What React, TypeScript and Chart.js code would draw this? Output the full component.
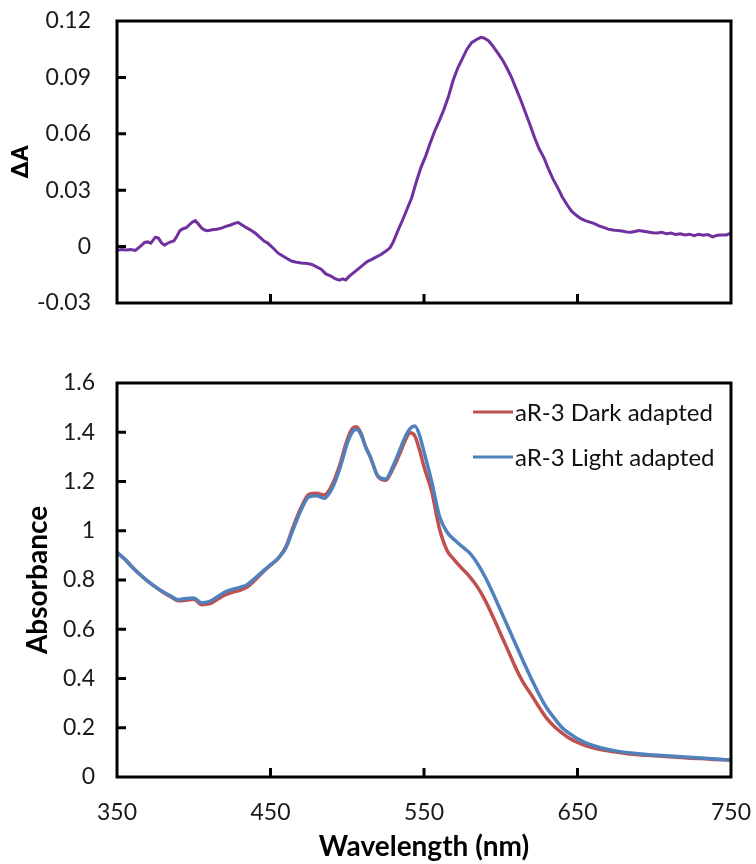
import React, { useEffect, useRef } from "react";
import { Chart, registerables } from "chart.js";

Chart.register(...registerables);

const FONT = "Lato, 'Liberation Sans', sans-serif";
const GREEK_FONT = "Roboto, 'Liberation Sans', sans-serif";

// ---- Top panel: difference spectrum (ΔA) ----
const diffWavelengths = [
  350, 353, 356, 359, 362, 365, 368, 370, 372, 375, 377, 379, 381, 383, 385, 387, 389, 391, 393, 395,
  397, 399, 401, 403, 405, 407, 409, 412, 415, 418, 421, 424, 427, 429, 431, 434, 437, 440, 443, 446,
  448, 450, 452, 455, 458, 461, 464, 467, 470, 474, 477, 480, 483, 486, 489, 492, 495, 497, 499, 501,
  504, 507, 510, 513, 516, 519, 522, 525, 528, 530, 533, 536, 539, 542, 545, 548, 551, 554, 557, 560,
  563, 566, 569, 572, 575, 578, 581, 584, 587, 589, 592, 595, 598, 601, 604, 607, 610, 613, 616, 619,
  622, 625, 628, 631, 634, 637, 640, 643, 646, 649, 652, 655, 658, 661, 664, 667, 670, 673, 676, 679,
  682, 685, 688, 690, 693, 696, 699, 702, 705, 708, 711, 714, 717, 720, 723, 726, 729, 732, 735, 738,
  741, 744, 747, 750,
];
const diffValues = [
  -0.002, -0.0015, -0.0018, -0.0015, -0.002, 0.0, 0.0022, 0.0025, 0.0018, 0.005, 0.0045, 0.002, 0.0008, 0.0018, 0.0025, 0.003, 0.0055, 0.0085, 0.0095, 0.01,
  0.0115, 0.013, 0.0138, 0.012, 0.01, 0.0088, 0.0085, 0.009, 0.0092, 0.0098, 0.0108, 0.0115, 0.0125, 0.0128, 0.0118, 0.0102, 0.0088, 0.0072, 0.005, 0.0028,
  0.002, 0.0005, -0.001, -0.0035, -0.005, -0.0065, -0.0078, -0.0083, -0.0087, -0.009, -0.0095, -0.0108, -0.012, -0.0145, -0.0155, -0.017, -0.0178, -0.0172, -0.0178, -0.016,
  -0.014, -0.012, -0.01, -0.008, -0.0068, -0.0055, -0.0042, -0.0025, -0.0005, 0.0025, 0.0085, 0.014, 0.02, 0.026, 0.0345, 0.042, 0.048, 0.055, 0.0615, 0.067,
  0.073, 0.08, 0.0885, 0.095, 0.1, 0.105, 0.1085, 0.11, 0.1113, 0.111, 0.1095, 0.1065, 0.103, 0.0995, 0.095, 0.09, 0.084, 0.078, 0.0715, 0.065,
  0.058, 0.052, 0.0475, 0.0415, 0.036, 0.0315, 0.0265, 0.0225, 0.019, 0.0168, 0.015, 0.0138, 0.013, 0.0122, 0.011, 0.0102, 0.0093, 0.0088, 0.0085, 0.0083,
  0.0078, 0.0076, 0.0082, 0.0085, 0.0082, 0.0078, 0.0074, 0.0072, 0.0076, 0.0068, 0.0072, 0.0064, 0.0068, 0.0062, 0.0066, 0.0058, 0.0066, 0.006, 0.0064, 0.0052,
  0.006, 0.0062, 0.0062, 0.0072,
];

// ---- Bottom panel: absorbance spectra ----
const absWavelengths = [
  350, 355, 360, 365, 370, 375, 380, 385, 390, 395, 400, 405, 410, 415, 420, 425, 430, 435, 440, 445,
  450, 455, 460, 465, 470, 475, 480, 485, 490, 495, 500, 503, 506, 509, 512, 515, 520, 525, 530, 535,
  538, 541, 544, 547, 550, 555, 560, 565, 570, 575, 580, 585, 590, 595, 600, 605, 610, 615, 620, 625,
  630, 635, 640, 645, 650, 655, 660, 665, 670, 675, 680, 685, 690, 695, 700, 705, 710, 715, 720, 725,
  730, 735, 740, 745, 750,
];
const darkAdapted = [
  0.912, 0.885, 0.852, 0.822, 0.795, 0.772, 0.75, 0.732, 0.716, 0.718, 0.722, 0.7, 0.703, 0.72, 0.738, 0.75, 0.758, 0.772, 0.8, 0.832,
  0.86, 0.888, 0.935, 1.02, 1.095, 1.148, 1.152, 1.145, 1.185, 1.265, 1.37, 1.412, 1.422, 1.395, 1.34, 1.3, 1.22, 1.205, 1.255, 1.325,
  1.37, 1.398, 1.385, 1.33, 1.26, 1.16, 1.01, 0.92, 0.88, 0.845, 0.812, 0.77, 0.715, 0.65, 0.58, 0.51, 0.44, 0.38, 0.333, 0.283,
  0.238, 0.204, 0.178, 0.156, 0.14, 0.128, 0.119, 0.112, 0.106, 0.101, 0.097, 0.093, 0.09, 0.088, 0.086, 0.084, 0.082, 0.08, 0.078, 0.076,
  0.075, 0.073, 0.071, 0.07, 0.068,
];
const lightAdapted = [
  0.912, 0.885, 0.852, 0.822, 0.795, 0.772, 0.752, 0.735, 0.72, 0.725, 0.727, 0.708, 0.712, 0.73, 0.75, 0.762, 0.77, 0.782, 0.808, 0.835,
  0.862, 0.888, 0.93, 1.01, 1.085, 1.138, 1.142, 1.132, 1.17, 1.25, 1.355, 1.398, 1.412, 1.39, 1.34, 1.3, 1.222, 1.21, 1.265, 1.34,
  1.385, 1.415, 1.425, 1.39, 1.32, 1.2, 1.06, 0.995, 0.962, 0.935, 0.908, 0.865, 0.81, 0.745, 0.675, 0.605, 0.535, 0.465, 0.398, 0.335,
  0.28, 0.238, 0.2, 0.176, 0.155, 0.14, 0.128, 0.119, 0.112, 0.106, 0.101, 0.097, 0.094, 0.091, 0.089, 0.087, 0.085, 0.083, 0.081, 0.079,
  0.077, 0.075, 0.073, 0.071, 0.069,
];

const seriesLabels = ["aR-3 Dark adapted", "aR-3 Light adapted"];
const seriesColors = ["#C0504D", "#4F81BD"];
const diffColor = "#7030A0";

const xTicks = [350, 450, 550, 650, 750];
const diffTicks = [-0.03, 0, 0.03, 0.06, 0.09, 0.12];
const absTicks = [0, 0.2, 0.4, 0.6, 0.8, 1, 1.2, 1.4, 1.6];

const fmt = (v: number) => String(Number(Number(v).toFixed(2)));

const framePlugin = {
  id: "frame",
  afterDatasetsDraw(chart: any) {
    const { ctx, chartArea: a, scales } = chart;
    ctx.save();
    ctx.strokeStyle = "#000";
    ctx.lineWidth = 3;
    const len = 9;
    ctx.beginPath();
    for (const t of scales.y.ticks) {
      const py = scales.y.getPixelForValue(t.value);
      if (py > a.top + 2 && py < a.bottom - 2) {
        ctx.moveTo(a.left, py);
        ctx.lineTo(a.left + len, py);
      }
    }
    for (const t of scales.x.ticks) {
      const px = scales.x.getPixelForValue(t.value);
      if (px > a.left + 2 && px < a.right - 2) {
        ctx.moveTo(px, a.bottom);
        ctx.lineTo(px, a.bottom - len);
      }
    }
    ctx.stroke();
    ctx.strokeRect(a.left, a.top, a.right - a.left, a.bottom - a.top);
    ctx.restore();
  },
};

const legendPlugin = {
  id: "insideLegend",
  afterDraw(chart: any) {
    const { ctx, chartArea: a } = chart;
    ctx.save();
    ctx.font = `24px ${FONT}`;
    ctx.textBaseline = "middle";
    ctx.textAlign = "left";
    const x0 = a.right - 258;
    seriesLabels.forEach((label, i) => {
      const y = a.top + 29 + i * 45;
      ctx.strokeStyle = seriesColors[i];
      ctx.lineWidth = 3;
      ctx.beginPath();
      ctx.moveTo(x0, y);
      ctx.lineTo(x0 + 40, y);
      ctx.stroke();
      ctx.fillStyle = "#111";
      ctx.fillText(label, x0 + 42, y + 1);
    });
    ctx.restore();
  },
};

const tickFont = { family: FONT, size: 23 };
const titleFont = { family: FONT, size: 28, weight: "bold" as const };

const noVerticalPad = (width: number) => (s: any) => {
  s.width = width;
  s.paddingTop = 0;
  s.paddingBottom = 0;
};
const noHorizontalPad = (height: number) => (s: any) => {
  s.height = height;
  s.paddingLeft = 0;
  s.paddingRight = 0;
};

export default function App() {
  const topRef = useRef<HTMLCanvasElement>(null);
  const botRef = useRef<HTMLCanvasElement>(null);

  useEffect(() => {
    const top = new Chart(topRef.current!, {
      type: "line",
      data: {
        datasets: [
          {
            label: "ΔA",
            data: diffWavelengths.map((x, i) => ({ x, y: diffValues[i] })),
            borderColor: diffColor,
            borderWidth: 3,
            pointRadius: 0,
            tension: 0,
          },
        ],
      },
      options: {
        animation: false,
        responsive: true,
        maintainAspectRatio: false,
        layout: { padding: { top: 21, right: 25, left: 0, bottom: 0 } },
        plugins: { legend: { display: false }, tooltip: { enabled: false } },
        scales: {
          x: {
            type: "linear",
            min: 350,
            max: 750,
            afterBuildTicks: (s: any) => {
              s.ticks = xTicks.map((v) => ({ value: v }));
            },
            ticks: { display: false },
            grid: { display: false, drawTicks: false },
            border: { display: false },
            afterFit: noHorizontalPad(27),
          },
          y: {
            type: "linear",
            min: -0.03,
            max: 0.12,
            afterBuildTicks: (s: any) => {
              s.ticks = diffTicks.map((v) => ({ value: v }));
            },
            ticks: { font: tickFont, color: "#1a1a1a", padding: 26, callback: (v: any) => fmt(v) },
            grid: { display: false, drawTicks: false },
            border: { display: false },
            title: {
              display: true,
              text: "ΔA",
              font: { family: GREEK_FONT, size: 24, weight: "bold" },
              color: "#000",
              padding: { top: 8, bottom: 0 },
            },
            afterFit: noVerticalPad(117),
          },
        },
      } as any,
      plugins: [framePlugin],
    });

    const bot = new Chart(botRef.current!, {
      type: "line",
      data: {
        datasets: [
          {
            label: seriesLabels[0],
            data: absWavelengths.map((x, i) => ({ x, y: darkAdapted[i] })),
            borderColor: seriesColors[0],
            borderWidth: 3.5,
            pointRadius: 0,
            cubicInterpolationMode: "monotone",
            order: 2,
          },
          {
            label: seriesLabels[1],
            data: absWavelengths.map((x, i) => ({ x, y: lightAdapted[i] })),
            borderColor: seriesColors[1],
            borderWidth: 3.5,
            pointRadius: 0,
            cubicInterpolationMode: "monotone",
            order: 1,
          },
        ],
      },
      options: {
        animation: false,
        responsive: true,
        maintainAspectRatio: false,
        layout: { padding: { top: 43, right: 25, left: 0, bottom: 0 } },
        plugins: { legend: { display: false }, tooltip: { enabled: false } },
        scales: {
          x: {
            type: "linear",
            min: 350,
            max: 750,
            afterBuildTicks: (s: any) => {
              s.ticks = xTicks.map((v) => ({ value: v }));
            },
            ticks: { font: tickFont, color: "#1a1a1a", padding: 22, maxRotation: 0, autoSkip: false, callback: (v: any) => String(v) },
            grid: { display: false, drawTicks: false },
            border: { display: false },
            title: { display: true, text: "Wavelength (nm)", font: titleFont, color: "#000", padding: { top: 0, bottom: 0 } },
            afterFit: noHorizontalPad(87),
          },
          y: {
            type: "linear",
            min: 0,
            max: 1.6,
            afterBuildTicks: (s: any) => {
              s.ticks = absTicks.map((v) => ({ value: v }));
            },
            ticks: { font: tickFont, color: "#1a1a1a", padding: 22, callback: (v: any) => fmt(v) },
            grid: { display: false, drawTicks: false },
            border: { display: false },
            title: { display: true, text: "Absorbance", font: titleFont, color: "#000", padding: { top: 21, bottom: 0 } },
            afterFit: noVerticalPad(117),
          },
        },
      } as any,
      plugins: [framePlugin, legendPlugin],
    });

    return () => {
      top.destroy();
      bot.destroy();
    };
  }, []);

  return (
    <div style={{ position: "absolute", left: 0, top: 0, width: 756, height: 864, background: "#fff" }}>
      <div style={{ position: "absolute", left: 0, top: 0, width: 756, height: 330 }}>
        <canvas ref={topRef} />
      </div>
      <div style={{ position: "absolute", left: 0, top: 340, width: 756, height: 524 }}>
        <canvas ref={botRef} />
      </div>
    </div>
  );
}
